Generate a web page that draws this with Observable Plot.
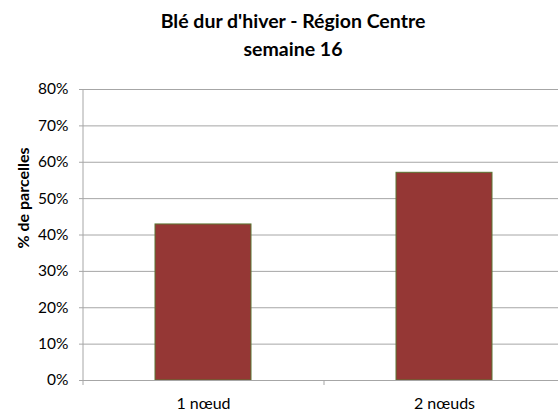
<!DOCTYPE html>
<html><head><meta charset="utf-8">
<script src="https://cdn.jsdelivr.net/npm/d3@7"></script>
<script src="https://cdn.jsdelivr.net/npm/@observablehq/plot@0.6"></script>
<style>
body{margin:0;background:#fff;font-family:Lato,"Open Sans",sans-serif;}
#wrap{position:relative;width:558px;height:412px;overflow:hidden;}
#title{position:absolute;left:0;top:0;width:586px;text-align:center;font-weight:bold;font-size:19.5px;line-height:28px;padding-top:7px;color:#000;}
#ylab{position:absolute;left:22px;top:198px;transform:translate(-50%,-50%) rotate(-90deg);font-weight:bold;font-size:16px;white-space:nowrap;color:#000;}
#chart{position:absolute;left:0;top:75px;}
</style></head>
<body>
<div id="wrap">
<div id="title">Blé dur d'hiver - Région Centre<br>semaine 16</div>
<div id="chart"></div>
<div id="ylab">% de parcelles</div>
</div>
<script>
const categories = ["1 nœud", "2 nœuds"];
const values = [0.429, 0.571];
const yTicks = [0, 0.1, 0.2, 0.3, 0.4, 0.5, 0.6, 0.7, 0.8];

const data = categories.map((c, i) => ({cat: c, value: values[i]}));
const grid = "#a6a6a6";
const step = (565 - 83) / 2;

const chart = Plot.plot({
  width: 558,
  height: 337,
  marginTop: 14,
  marginBottom: 32,
  marginLeft: 83,
  marginRight: 0,
  style: {fontFamily: "Lato, 'Open Sans', sans-serif", fontSize: "16px", color: "#000", background: "#fff"},
  x: {type: "band", domain: categories, range: [83, 565], paddingInner: 0.6, paddingOuter: 0.3},
  y: {domain: [0, 0.8]},
  marks: [
    Plot.ruleY(yTicks.slice(1), {y: d => d, stroke: grid, strokeWidth: 1}),
    Plot.axisY({ticks: yTicks, tickFormat: d3.format(".0%"), tickSize: 4, tickPadding: 11, stroke: grid, label: null, fontSize: 15.5}),
    Plot.ruleX([0], {x: () => categories[0], dx: -step / 2, stroke: grid}),
    Plot.barY(data, {x: "cat", y: "value", fill: "#953735", stroke: "#5b7532", strokeWidth: 1}),
    Plot.ruleY([0], {stroke: grid}),
    Plot.ruleX(categories, {x: d => d, dx: -step / 2, stroke: grid, insetTop: 291, insetBottom: -5}),
    Plot.axisX({tickSize: 0, tickPadding: 17, label: null, fontSize: 16})
  ]
});
document.getElementById("chart").appendChild(chart);
</script>
</body></html>
